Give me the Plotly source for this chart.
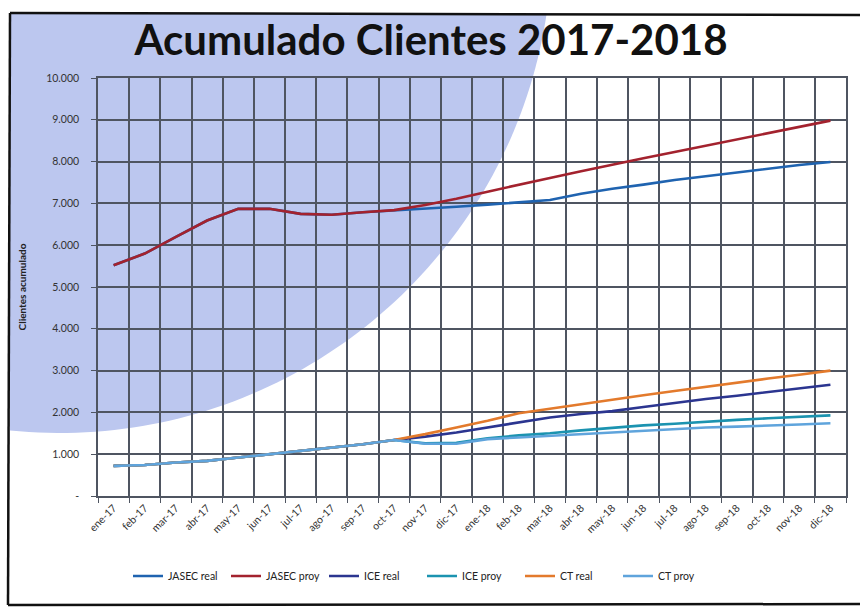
import numpy as np
import plotly.graph_objects as go

meses = ["ene-17", "feb-17", "mar-17", "abr-17", "may-17", "jun-17", "jul-17", "ago-17",
         "sep-17", "oct-17", "nov-17", "dic-17", "ene-18", "feb-18", "mar-18", "abr-18",
         "may-18", "jun-18", "jul-18", "ago-18", "sep-18", "oct-18", "nov-18", "dic-18"]

jasec_real = [5520, 5800, 6200, 6590, 6870, 6870, 6750, 6730, 6790, 6830, 6870, 6920,
              6970, 7030, 7080, 7230, 7350, 7450, 7560, 7650, 7740, 7840, 7920, 7990]
jasec_proy = [5520, 5800, 6200, 6590, 6870, 6870, 6750, 6730, 6790, 6840, 6960, 7110,
              7280, 7450, 7610, 7770, 7930, 8080, 8230, 8380, 8530, 8680, 8830, 8980]
ice_real = [720, 740, 800, 840, 920, 1000, 1080, 1160, 1240, 1340, 1420, 1520,
            1640, 1760, 1880, 1960, 2030, 2130, 2230, 2320, 2400, 2490, 2580, 2660]
ice_proy = [720, 740, 800, 840, 920, 1000, 1080, 1160, 1240, 1340, 1260, 1270,
            1380, 1450, 1500, 1570, 1630, 1690, 1730, 1780, 1820, 1860, 1900, 1930]
ct_real = [720, 740, 800, 840, 920, 1000, 1080, 1160, 1240, 1340, 1480, 1640,
           1800, 1980, 2090, 2200, 2300, 2410, 2510, 2610, 2720, 2810, 2900, 3000]
ct_proy = [720, 740, 800, 840, 920, 1000, 1080, 1160, 1240, 1340, 1250, 1250,
           1360, 1400, 1440, 1470, 1510, 1560, 1600, 1640, 1660, 1680, 1710, 1740]

y_ticks = [0, 1000, 2000, 3000, 4000, 5000, 6000, 7000, 8000, 9000, 10000]
y_labels = ["-", "1.000", "2.000", "3.000", "4.000", "5.000", "6.000", "7.000",
            "8.000", "9.000", "10.000"]

series = [
    ("JASEC real", jasec_real, "#1f63b0"),
    ("JASEC proy", jasec_proy, "#a3222e"),
    ("ICE real", ice_real, "#2b3590"),
    ("ICE proy", ice_proy, "#1b93b0"),
    ("CT real", ct_real, "#e37a2c"),
    ("CT proy", ct_proy, "#5fa4dc"),
]

W, H = 860, 610
L, R, T, B = 98, 846, 78, 496
pw, ph = R - L, B - T

def px(x):
    return (x - L) / pw

def py(y):
    return (B - y) / ph

fig = go.Figure()
for name, vals, col in series:
    fig.add_trace(go.Scatter(x=meses, y=vals, name=name, mode="lines",
                             line=dict(color=col, width=2.6)))

# decorative background circle (clipped to frame)
cx, cy, r = 60, -59, 492
fx0, fy0 = 10, 13
xa = cx + np.sqrt(r**2 - (fy0 - cy)**2)
yb = cy + np.sqrt(r**2 - (fx0 - cx)**2)
a0 = np.arctan2(fy0 - cy, xa - cx)
a1 = np.arctan2(yb - cy, fx0 - cx)
angs = np.linspace(a0, a1, 80)
pts = [(fx0, fy0), (xa, fy0)] + [(cx + r*np.cos(a), cy + r*np.sin(a)) for a in angs] + [(fx0, yb)]
path = "M " + " L ".join(f"{px(x):.5f},{py(y):.5f}" for x, y in pts) + " Z"

shapes = [
    dict(type="path", path=path, xref="paper", yref="paper", fillcolor="#bcc7ef",
         line=dict(width=0), layer="below"),
    dict(type="line", xref="paper", yref="paper", x0=px(fx0), y0=py(fy0), x1=px(870), y1=py(15),
         line=dict(color="#111", width=2.5), layer="above"),
    dict(type="line", xref="paper", yref="paper", x0=px(fx0), y0=py(fy0), x1=px(8), y1=py(605),
         line=dict(color="#111", width=2.5), layer="above"),
    dict(type="line", xref="paper", yref="paper", x0=px(8), y0=py(605), x1=px(870), y1=py(604),
         line=dict(color="#111", width=2.5), layer="above"),
]

grid = "#4f5561"
fig.update_layout(
    width=W, height=H,
    margin=dict(l=L, r=W - R, t=T, b=H - B),
    paper_bgcolor="white",
    plot_bgcolor="rgba(0,0,0,0)",
    font=dict(family="Lato, Open Sans, sans-serif", color="#222"),
    title=dict(text="<b>Acumulado Clientes 2017-2018</b>", x=431 / W, xref="container",
               xanchor="center", y=1 - 40 / H, yanchor="middle",
               font=dict(size=42, color="#111")),
    shapes=shapes,
    showlegend=True,
    legend=dict(orientation="h", x=px(128), y=py(576), xanchor="left", yanchor="middle",
                font=dict(size=10.5, color="#222"), entrywidth=53, bgcolor="rgba(0,0,0,0)",
                itemwidth=30, tracegroupgap=0),
    xaxis=dict(type="category", tickson="boundaries", showgrid=True, gridcolor=grid,
               gridwidth=1.6, showline=True, linecolor=grid, linewidth=1.6, mirror=True,
               ticks="outside", ticklen=5, tickcolor=grid, tickangle=-45,
               tickfont=dict(size=10.5, color="#333"), range=[-0.5, 23.5]),
    yaxis=dict(range=[0, 10000], tickvals=y_ticks, ticktext=y_labels, showgrid=True,
               gridcolor=grid, gridwidth=1.6, showline=True, linecolor=grid, linewidth=1.6,
               mirror=True, ticks="outside", ticklen=5, tickcolor=grid, zeroline=False,
               ticklabelstandoff=10,
               tickfont=dict(size=10.5, color="#333"),
               title=dict(text="<b>Clientes acumulado</b>", font=dict(size=10, color="#222"),
                          standoff=18)),
)

fig.write_html("out.html", config={"displayModeBar": False},
               post_script="document.body.style.margin='0';document.body.style.overflow='hidden';")
